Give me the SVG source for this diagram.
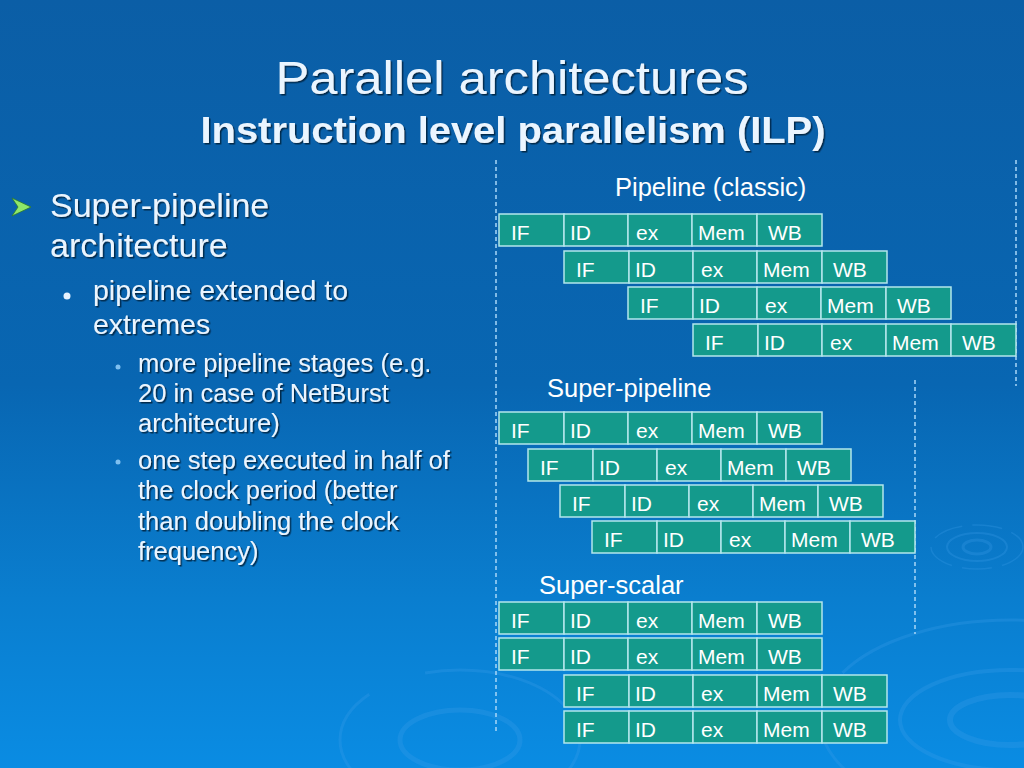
<svg xmlns="http://www.w3.org/2000/svg" width="1024" height="768" viewBox="0 0 1024 768">
<defs>
<linearGradient id="bg" x1="0" y1="0" x2="0" y2="1">
<stop offset="0" stop-color="#0b5ea6"/>
<stop offset="0.5" stop-color="#0866b2"/>
<stop offset="0.78" stop-color="#0a7ecf"/>
<stop offset="1" stop-color="#0a8ce3"/>
</linearGradient>
<filter id="sh" x="-5%" y="-20%" width="110%" height="150%">
<feDropShadow dx="1.5" dy="1.5" stdDeviation="0.6" flood-color="#06223f" flood-opacity="0.9"/>
</filter>
<g id="row">
<rect class="c" x="0" y="0" width="65" height="32"/>
<rect class="c" x="65" y="0" width="64" height="32"/>
<rect class="c" x="129" y="0" width="64" height="32"/>
<rect class="c" x="193" y="0" width="65" height="32"/>
<rect class="c" x="258" y="0" width="65" height="32"/>
</g>
</defs>
<style>
.c{fill:#149a8c;stroke:#b3e6ec;stroke-width:1.5}
.ct{font-family:"Liberation Sans",Arial,sans-serif;font-size:21px;fill:#ffffff}
.lbl{font-family:"Liberation Sans",Arial,sans-serif;font-size:25.5px;fill:#ffffff}
.t{font-family:"Liberation Sans",Arial,sans-serif;fill:#eaf5ff;filter:url(#sh)}
.sep{stroke:#a8d6f7;stroke-width:1.5;stroke-dasharray:4 3;fill:none}
.rip{fill:none;stroke:#3d9fe8;stroke-opacity:0.28}
</style>
<rect width="1024" height="768" fill="url(#bg)"/>
<g id="ripples">
<ellipse class="rip" cx="977" cy="547" rx="14" ry="7" stroke-width="3"/>
<ellipse class="rip" cx="977" cy="547" rx="30" ry="14" stroke-width="2"/>
<ellipse class="rip" cx="977" cy="547" rx="46" ry="22" stroke-width="1.5" stroke-dasharray="30 10"/>
<ellipse class="rip" cx="1010" cy="720" rx="60" ry="25" stroke-width="6"/>
<ellipse class="rip" cx="1010" cy="720" rx="110" ry="50" stroke-width="4"/>
<ellipse class="rip" cx="1010" cy="720" rx="190" ry="100" stroke-width="3" stroke-dasharray="200 60"/>
<ellipse class="rip" cx="460" cy="740" rx="60" ry="30" stroke-width="5"/>
<ellipse class="rip" cx="460" cy="740" rx="120" ry="70" stroke-width="3" stroke-dasharray="150 60"/>
</g>
<g id="title">
<text class="t" x="512" y="94" text-anchor="middle" font-size="46" textLength="473" lengthAdjust="spacingAndGlyphs">Parallel architectures</text>
<text class="t" x="513" y="143" text-anchor="middle" font-size="37" font-weight="bold" textLength="625" lengthAdjust="spacingAndGlyphs">Instruction level parallelism (ILP)</text>
</g>
<g id="bullets">
<polygon points="12,198 31,207 12,216 18,207" fill="#8fe86a" stroke="#2f7a2a" stroke-width="0.8"/>
<text class="t" x="50" y="217" font-size="34">Super-pipeline</text>
<text class="t" x="50" y="257" font-size="34">architecture</text>
<circle cx="67" cy="296" r="3.5" fill="#e6f2ff"/>
<text class="t" x="93" y="300" font-size="28.5">pipeline extended to</text>
<text class="t" x="93" y="334" font-size="28.5">extremes</text>
<circle cx="118" cy="367" r="2.5" fill="#7fc0f0"/>
<text class="t" x="138" y="372" font-size="25.5">more pipeline stages (e.g.</text>
<text class="t" x="138" y="402" font-size="25.5">20 in case of NetBurst</text>
<text class="t" x="138" y="432" font-size="25.5">architecture)</text>
<circle cx="118" cy="462" r="2.5" fill="#7fc0f0"/>
<text class="t" x="138" y="469" font-size="25.5">one step executed in half of</text>
<text class="t" x="138" y="499" font-size="25.5">the clock period (better</text>
<text class="t" x="138" y="530" font-size="25.5">than doubling the clock</text>
<text class="t" x="138" y="560" font-size="25.5">frequency)</text>
</g>
<g id="separators">
<line class="sep" x1="496" y1="160" x2="496" y2="733"/>
<line class="sep" x1="1016" y1="160" x2="1016" y2="386"/>
<line class="sep" x1="915" y1="380" x2="915" y2="634"/>
</g>
<g id="label-classic"><text class="lbl" x="615" y="196">Pipeline (classic)</text></g>
<g id="label-superpipeline"><text class="lbl" x="547" y="397">Super-pipeline</text></g>
<g id="label-superscalar"><text class="lbl" x="539" y="594">Super-scalar</text></g>

<g id="classic-1" transform="translate(499,214)"><use href="#row"/><text class="ct" x="12" y="26">IF</text><text class="ct" x="71" y="26">ID</text><text class="ct" x="137" y="26">ex</text><text class="ct" x="199" y="26">Mem</text><text class="ct" x="269" y="26">WB</text></g>
<g id="classic-2" transform="translate(564,251)"><use href="#row"/><text class="ct" x="12" y="26">IF</text><text class="ct" x="71" y="26">ID</text><text class="ct" x="137" y="26">ex</text><text class="ct" x="199" y="26">Mem</text><text class="ct" x="269" y="26">WB</text></g>
<g id="classic-3" transform="translate(628,287)"><use href="#row"/><text class="ct" x="12" y="26">IF</text><text class="ct" x="71" y="26">ID</text><text class="ct" x="137" y="26">ex</text><text class="ct" x="199" y="26">Mem</text><text class="ct" x="269" y="26">WB</text></g>
<g id="classic-4" transform="translate(693,324)"><use href="#row"/><text class="ct" x="12" y="26">IF</text><text class="ct" x="71" y="26">ID</text><text class="ct" x="137" y="26">ex</text><text class="ct" x="199" y="26">Mem</text><text class="ct" x="269" y="26">WB</text></g>

<g id="superpipe-1" transform="translate(499,412)"><use href="#row"/><text class="ct" x="12" y="26">IF</text><text class="ct" x="71" y="26">ID</text><text class="ct" x="137" y="26">ex</text><text class="ct" x="199" y="26">Mem</text><text class="ct" x="269" y="26">WB</text></g>
<g id="superpipe-2" transform="translate(528,449)"><use href="#row"/><text class="ct" x="12" y="26">IF</text><text class="ct" x="71" y="26">ID</text><text class="ct" x="137" y="26">ex</text><text class="ct" x="199" y="26">Mem</text><text class="ct" x="269" y="26">WB</text></g>
<g id="superpipe-3" transform="translate(560,485)"><use href="#row"/><text class="ct" x="12" y="26">IF</text><text class="ct" x="71" y="26">ID</text><text class="ct" x="137" y="26">ex</text><text class="ct" x="199" y="26">Mem</text><text class="ct" x="269" y="26">WB</text></g>
<g id="superpipe-4" transform="translate(592,521)"><use href="#row"/><text class="ct" x="12" y="26">IF</text><text class="ct" x="71" y="26">ID</text><text class="ct" x="137" y="26">ex</text><text class="ct" x="199" y="26">Mem</text><text class="ct" x="269" y="26">WB</text></g>

<g id="superscalar-1" transform="translate(499,602)"><use href="#row"/><text class="ct" x="12" y="26">IF</text><text class="ct" x="71" y="26">ID</text><text class="ct" x="137" y="26">ex</text><text class="ct" x="199" y="26">Mem</text><text class="ct" x="269" y="26">WB</text></g>
<g id="superscalar-2" transform="translate(499,638)"><use href="#row"/><text class="ct" x="12" y="26">IF</text><text class="ct" x="71" y="26">ID</text><text class="ct" x="137" y="26">ex</text><text class="ct" x="199" y="26">Mem</text><text class="ct" x="269" y="26">WB</text></g>
<g id="superscalar-3" transform="translate(564,675)"><use href="#row"/><text class="ct" x="12" y="26">IF</text><text class="ct" x="71" y="26">ID</text><text class="ct" x="137" y="26">ex</text><text class="ct" x="199" y="26">Mem</text><text class="ct" x="269" y="26">WB</text></g>
<g id="superscalar-4" transform="translate(564,711)"><use href="#row"/><text class="ct" x="12" y="26">IF</text><text class="ct" x="71" y="26">ID</text><text class="ct" x="137" y="26">ex</text><text class="ct" x="199" y="26">Mem</text><text class="ct" x="269" y="26">WB</text></g>
</svg>
